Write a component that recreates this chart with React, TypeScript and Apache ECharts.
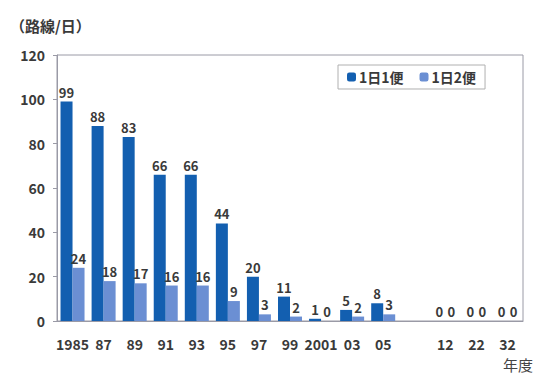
import React, { useEffect, useRef } from "react";
import * as echarts from "echarts";

const categories = ["1985", "87", "89", "91", "93", "95", "97", "99", "2001", "03", "05", "", "12", "22", "32"];
const oncePerDay: (number | string)[] = [99, 88, 83, 66, 66, 44, 20, 11, 1, 5, 8, "-", 0, 0, 0];
const twicePerDay: (number | string)[] = [24, 18, 17, 16, 16, 9, 3, 2, 0, 2, 3, "-", 0, 0, 0];
const seriesNames = ["1日1便", "1日2便"];

export default function App() {
  const ref = useRef<HTMLDivElement>(null);
  useEffect(() => {
    const chart = echarts.init(ref.current!, null, { renderer: "svg" });
    const font = "'Noto Sans CJK JP', 'Noto Sans', sans-serif";
    const label = {
      show: true,
      position: "top" as const,
      distance: 3,
      color: "#3a3a3a",
      fontSize: 13,
      fontWeight: "bold" as const,
      fontFamily: font,
    };
    chart.setOption({
      animation: false,
      backgroundColor: "#fff",
      textStyle: { fontFamily: font },
      graphic: [
        {
          type: "rect",
          shape: { x: 57, y: 55, width: 466, height: 266 },
          style: { fill: "none", stroke: "#9a9aa6", lineWidth: 1 },
          z: 0,
        },
        {
          type: "text",
          left: 10,
          top: 18,
          style: { text: "（路線/日）", fill: "#3a3a3a", font: `bold 15px ${font}` },
        },
        {
          type: "text",
          left: 503,
          top: 357,
          style: { text: "年度", fill: "#444", font: `15px ${font}` },
        },
      ],
      legend: {
        data: seriesNames,
        left: 338,
        top: 65,
        itemWidth: 9,
        itemHeight: 9,
        itemGap: 16,
        padding: [5, 9],
        borderColor: "#b0b0b0",
        borderWidth: 1,
        textStyle: { fontSize: 14, color: "#3a3a3a", fontWeight: "bold", padding: [0, 0, 0, -2] },
      },
      grid: { left: 57, right: 18, top: 55, bottom: 57 },
      xAxis: {
        type: "category",
        data: categories,
        axisLine: { lineStyle: { color: "#9a9aa6" } },
        axisTick: { show: false },
        axisLabel: { color: "#3a3a3a", fontSize: 14, fontWeight: "bold", margin: 16, interval: 0 },
      },
      yAxis: {
        type: "value",
        min: 0,
        max: 120,
        interval: 20,
        axisLine: { show: true, lineStyle: { color: "#9a9aa6" } },
        axisTick: { show: true, length: 4, lineStyle: { color: "#9a9aa6" } },
        splitLine: { show: false },
        axisLabel: { color: "#3a3a3a", fontSize: 14, fontWeight: "bold", margin: 12 },
      },
      series: [
        {
          name: seriesNames[0],
          type: "bar",
          data: oncePerDay,
          barWidth: 12,
          barGap: "0%",
          itemStyle: { color: "#135fb0" },
          label,
        },
        {
          name: seriesNames[1],
          type: "bar",
          data: twicePerDay,
          barWidth: 12,
          itemStyle: { color: "#6b8fd3" },
          label,
        },
      ],
    });
    return () => chart.dispose();
  }, []);
  return <div ref={ref} style={{ width: 541, height: 378, position: "absolute", left: 0, top: 0 }} />;
}
